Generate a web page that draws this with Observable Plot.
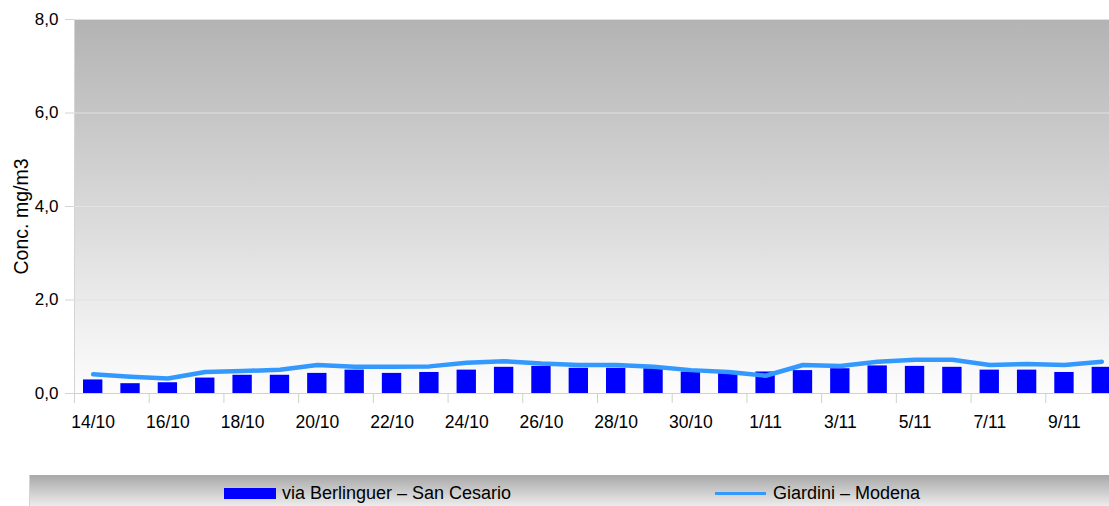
<!DOCTYPE html>
<html>
<head>
<meta charset="utf-8">
<script src="https://cdn.jsdelivr.net/npm/d3@7"></script>
<script src="https://cdn.jsdelivr.net/npm/@observablehq/plot@0.6"></script>
<style>
  html, body { margin: 0; background: #fff; font-family: "Liberation Sans", Arial, sans-serif; overflow: hidden; }
  #chart svg { display: block; overflow: hidden; }
  #legend {
    position: relative;
    margin-top: 15px;
    margin-left: 29px;
    width: 1080px;
    height: 31px;
    background: linear-gradient(#a8a8a8, #ececec);
    border-left: 1px solid #d4d4d4;
    box-sizing: border-box;
    font-size: 18px;
    color: #000;
  }
  #legend .sw-bar { position: absolute; left: 194px; top: 13px; width: 52px; height: 11px; background: #0000ff; }
  #legend .sw-line { position: absolute; left: 685px; top: 17px; width: 51px; height: 3px; background: #3399ff; }
  #legend .lbl { position: absolute; top: 7px; line-height: 22px; white-space: nowrap; }
</style>
</head>
<body>
<div id="chart"></div>
<div id="legend">
  <div class="sw-bar"></div><div class="lbl" style="left:252px">via Berlinguer – San Cesario</div>
  <div class="sw-line"></div><div class="lbl" style="left:743px">Giardini – Modena</div>
</div>
<script>
// Daily CO concentrations (mg/m3), 14 Oct – 10 Nov
const days = [
  "14/10","15/10","16/10","17/10","18/10","19/10","20/10","21/10","22/10",
  "23/10","24/10","25/10","26/10","27/10","28/10","29/10","30/10","31/10",
  "1/11","2/11","3/11","4/11","5/11","6/11","7/11","8/11","9/11","10/11"
];
const berlinguer = [
  0.29, 0.21, 0.23, 0.33, 0.39, 0.39, 0.43, 0.50, 0.43,
  0.45, 0.50, 0.56, 0.58, 0.54, 0.54, 0.53, 0.46, 0.44,
  0.46, 0.49, 0.53, 0.59, 0.58, 0.56, 0.50, 0.50, 0.45, 0.56
];
const giardini = [
  0.41, 0.36, 0.32, 0.46, 0.48, 0.51, 0.61, 0.57, 0.57,
  0.58, 0.66, 0.69, 0.64, 0.61, 0.61, 0.57, 0.50, 0.46,
  0.38, 0.61, 0.59, 0.68, 0.72, 0.72, 0.61, 0.63, 0.61, 0.68
];
const yTicks = [0, 2, 4, 6, 8];
const labelDays = days.filter((d, i) => i % 2 === 0);

const rows = days.map((d, i) => ({day: d, b: berlinguer[i], g: giardini[i]}));

// the last day runs a little past the right edge of the page
const W = 1109, H = 460, ML = 74, MR = -11, MT = 19, MB = 67;
const step = (W - ML - MR) / days.length;
const fmt = v => v.toFixed(1).replace(".", ",");

// grey-to-white backdrop of the plotting area, plus its left border
function backdrop(index, scales, values, dims) {
  const {width, height, marginLeft, marginRight, marginTop, marginBottom} = dims;
  const g = d3.create("svg:g");
  const grad = g.append("defs").append("linearGradient")
    .attr("id", "plotBg").attr("x1", 0).attr("y1", 0).attr("x2", 0).attr("y2", 1);
  grad.append("stop").attr("offset", "0%").attr("stop-color", "#b3b3b3");
  grad.append("stop").attr("offset", "100%").attr("stop-color", "#fdfdfd");
  g.append("rect")
    .attr("x", marginLeft).attr("y", marginTop)
    .attr("width", width - marginLeft - marginRight)
    .attr("height", height - marginTop - marginBottom)
    .attr("fill", "url(#plotBg)");
  g.append("line")
    .attr("x1", marginLeft + 0.5).attr("x2", marginLeft + 0.5)
    .attr("y1", marginTop).attr("y2", height - marginBottom + 10)
    .attr("stroke", "#d4d4d4");
  return g.node();
}

const chart = Plot.plot({
  width: W,
  height: H,
  marginLeft: ML,
  marginRight: MR,
  marginTop: MT,
  marginBottom: MB,
  style: {fontFamily: "'Liberation Sans', Arial, sans-serif", fontSize: "16px", background: "transparent", color: "#000"},
  x: {type: "band", domain: days, padding: 0, round: false},
  y: {domain: [0, 8]},
  marks: [
    backdrop,
    Plot.ruleY([2, 4, 6, 8], {stroke: "#e2e2e2", strokeWidth: 1}),
    Plot.ruleY([0], {stroke: "#d0d0d0"}),
    Plot.barY(rows, {x: "day", y: "b", fill: "#0000ff", insetLeft: 9, insetRight: 9}),
    Plot.lineY(rows, {x: "day", y: "g", stroke: "#3399ff", strokeWidth: 4.5, strokeLinejoin: "round"}),
    Plot.axisY({ticks: yTicks, tickFormat: fmt, tickSize: 9, tickPadding: 7, fontSize: 17, stroke: "#d4d4d4", label: null}),
    Plot.axisX({ticks: labelDays, tickSize: 10, tickFormat: () => "", dx: -step / 2, stroke: "#d0d0d0", label: null}),
    Plot.axisX({ticks: labelDays, tickSize: 0, tickPadding: 22, fontSize: 17.5, label: null}),
    Plot.text(["Conc. mg/m3"], {frameAnchor: "left", textAnchor: "middle", dx: -53, dy: 10, rotate: -90, fontSize: 19.5, fill: "#000"})
  ]
});
document.getElementById("chart").appendChild(chart);
</script>
</body>
</html>
